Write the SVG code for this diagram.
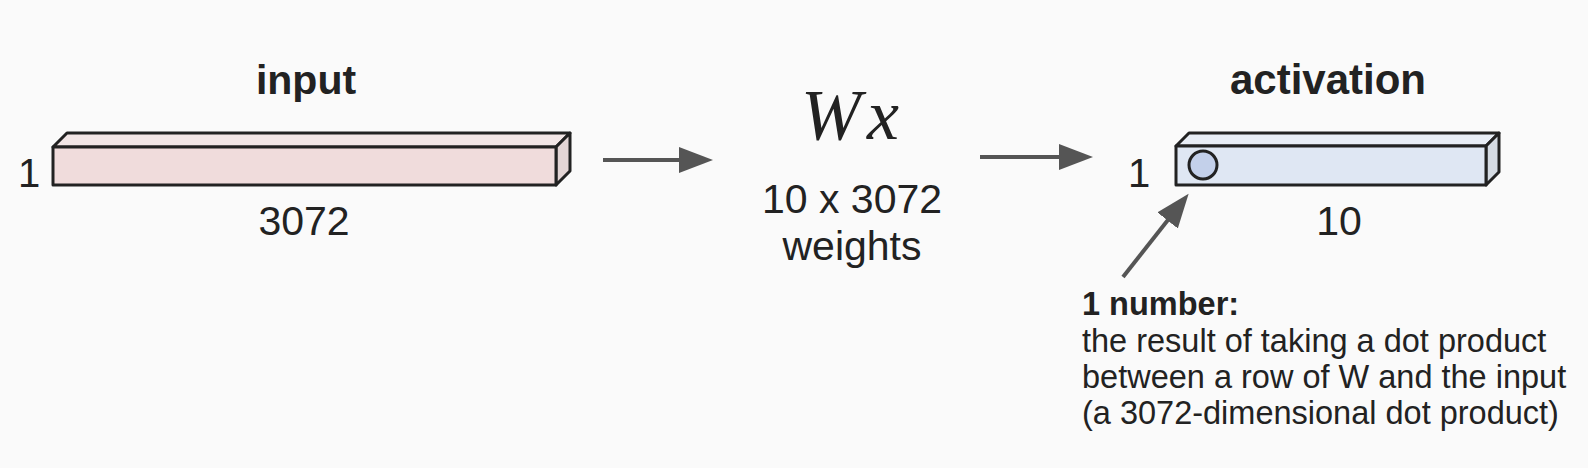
<svg xmlns="http://www.w3.org/2000/svg" width="1588" height="468" viewBox="0 0 1588 468">
<defs>
<marker id="ah" markerUnits="userSpaceOnUse" markerWidth="36" markerHeight="28" refX="12" refY="13" orient="auto">
<path d="M0,0 L34,13 L0,26 z" fill="#555"/>
</marker>
<style>
.t{font-family:"Liberation Sans",Arial,sans-serif;fill:#222}
.b{font-weight:bold}
.edge{stroke:#222;stroke-width:3;stroke-linejoin:round}
.conn{stroke:#555;stroke-width:4;fill:none}
</style>
</defs>
<rect width="1588" height="468" fill="#fafafa"/>
<g id="input">
<text class="t b" x="306" y="94" font-size="41" text-anchor="middle">input</text>
<polygon class="edge" points="53,147 67,133 570,133 556,147" fill="#f2e6e6"/>
<polygon class="edge" points="556,147 570,133 570,171 556,185" fill="#e3d5d5"/>
<rect class="edge" x="53" y="147" width="503" height="38" fill="#f0dcdc"/>
<text class="t" x="29" y="187" font-size="40" text-anchor="middle">1</text>
<text class="t" x="304" y="235" font-size="41" text-anchor="middle">3072</text>
</g>
<g id="weights">
<text x="850" y="139" font-size="72" font-family="'Liberation Serif','Times New Roman',serif" font-style="italic" fill="#222" text-anchor="middle">W<tspan dx="6">x</tspan></text>
<text class="t" x="852" y="213" font-size="41" text-anchor="middle">10 x 3072</text>
<text class="t" x="852" y="260" font-size="41" text-anchor="middle">weights</text>
</g>
<g id="activation">
<text class="t b" x="1328" y="94" font-size="42" text-anchor="middle">activation</text>
<polygon class="edge" points="1176,146 1189,133 1499,133 1486,146" fill="#e8edf5"/>
<polygon class="edge" points="1486,146 1499,133 1499,172 1486,185" fill="#d5dbe3"/>
<rect class="edge" x="1176" y="146" width="310" height="39" fill="#dfe7f3"/>
<circle class="edge" cx="1203" cy="165" r="14" fill="#c3d0ea"/>
<text class="t" x="1139" y="187" font-size="40" text-anchor="middle">1</text>
<text class="t" x="1339" y="235" font-size="41" text-anchor="middle">10</text>
</g>
<g id="note">
<text class="t" font-size="32.5" x="1082" y="315"><tspan class="b">1 number:</tspan><tspan x="1082" y="352">the result of taking a dot product</tspan><tspan x="1082" y="388">between a row of W and the input</tspan><tspan x="1082" y="424">(a 3072-dimensional dot product)</tspan></text>
</g>
<g id="connectors">
<line class="conn" x1="603" y1="160" x2="691" y2="160" marker-end="url(#ah)"/>
<line class="conn" x1="980" y1="157" x2="1071" y2="157" marker-end="url(#ah)"/>
<line class="conn" x1="1123" y1="277" x2="1175" y2="211" marker-end="url(#ah)"/>
</g>
</svg>
